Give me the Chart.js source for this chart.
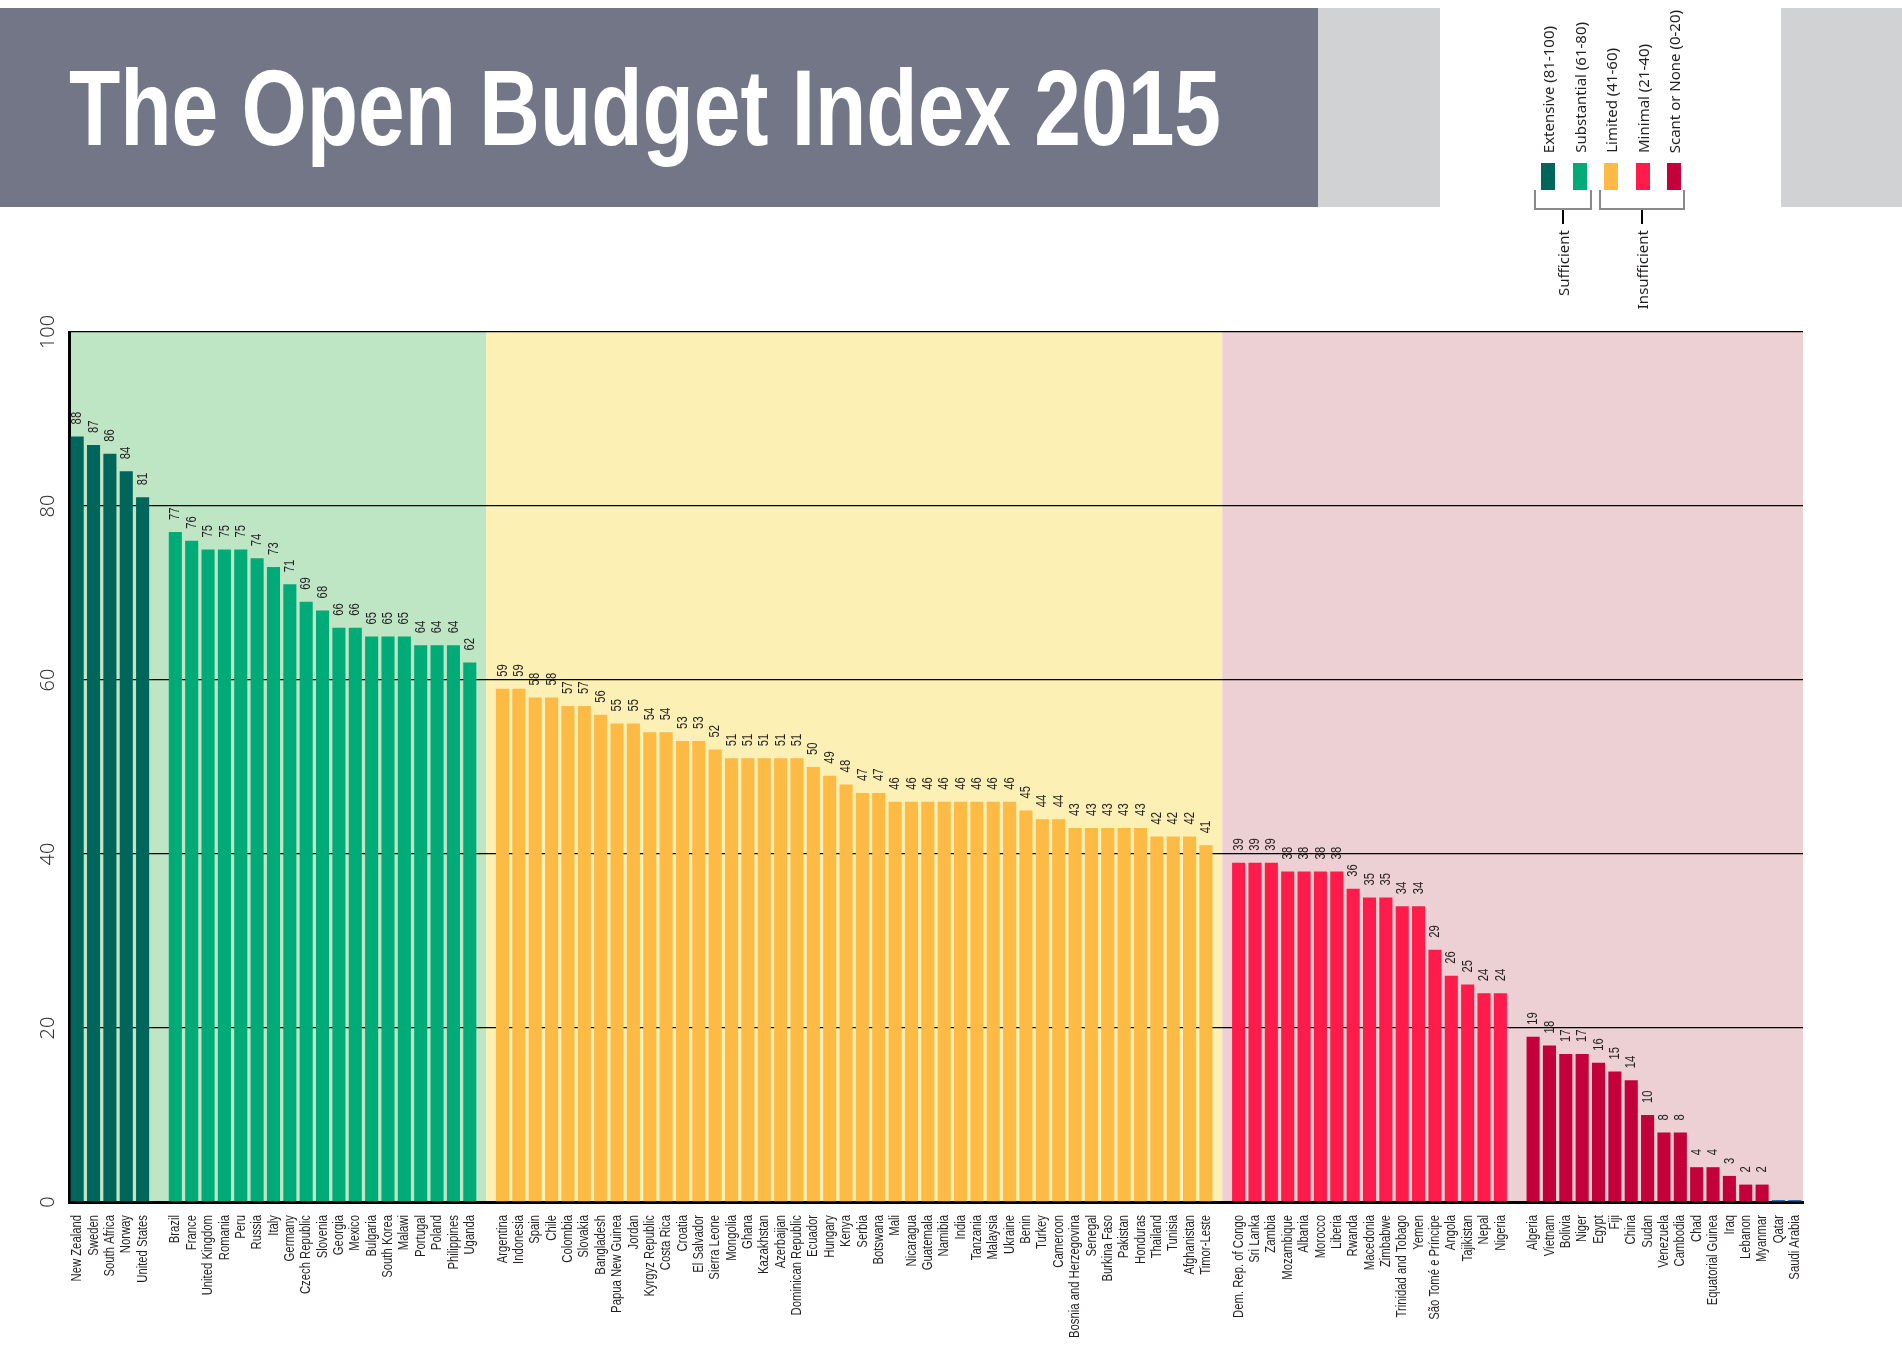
<!DOCTYPE html>
<html lang="en">
<head>
<meta charset="UTF-8">
<title>The Open Budget Index 2015</title>
<style>
    body {
        margin: 0;
        width: 1902px;
        height: 1348px;
        position: relative;
        overflow: hidden;
        background: #ffffff;
        font-family: 'Noto Sans', sans-serif;
        color: #231f20;
    }
    #budgetChart {
        position: absolute;
        left: 0;
        top: 0;
    }
    .block {
        position: absolute;
        top: 8px;
        height: 199px;
    }
    #titleBar { left: 0; width: 1318px; background: #737687; }
    #grayA { left: 1318px; width: 122px; background: #d1d2d4; }
    #grayB { left: 1781px; width: 121px; background: #d1d2d4; }
    #title {
        position: absolute;
        left: 69px;
        top: 54px;
        margin: 0;
        color: #ffffff;
        font-family: 'Liberation Sans', Arial, sans-serif;
        font-weight: bold;
        font-size: 108px;
        line-height: 108px;
        white-space: nowrap;
        transform-origin: left top;
    }
    .vtext {
        position: absolute;
        writing-mode: vertical-rl;
        transform: rotate(180deg);
        font-size: 15px;
        line-height: 16px;
        white-space: nowrap;
    }
    .swatch {
        position: absolute;
        top: 163px;
        width: 14px;
        height: 27px;
    }
    .line {
        position: absolute;
    }
</style>
</head>
<body>
    <canvas id="budgetChart" width="1902" height="1348"></canvas>

    <div class="block" id="titleBar"></div>
    <div class="block" id="grayA"></div>
    <div class="block" id="grayB"></div>
    <h1 id="title">The Open Budget Index 2015</h1>
    <div id="legend"></div>

    <script src="https://cdn.jsdelivr.net/npm/chart.js"></script>
    <script>
        // Scores by category, in the order they appear
        const extensiveCountries = ['New Zealand', 'Sweden', 'South Africa', 'Norway', 'United States'];
        const extensiveScores = [88, 87, 86, 84, 81];

        const substantialCountries = ['Brazil', 'France', 'United Kingdom', 'Romania', 'Peru', 'Russia', 'Italy', 'Germany',
            'Czech Republic', 'Slovenia', 'Georgia', 'Mexico', 'Bulgaria', 'South Korea', 'Malawi', 'Portugal', 'Poland',
            'Philippines', 'Uganda'];
        const substantialScores = [77, 76, 75, 75, 75, 74, 73, 71, 69, 68, 66, 66, 65, 65, 65, 64, 64, 64, 62];

        const limitedCountries = ['Argentina', 'Indonesia', 'Spain', 'Chile', 'Colombia', 'Slovakia', 'Bangladesh',
            'Papua New Guinea', 'Jordan', 'Kyrgyz Republic', 'Costa Rica', 'Croatia', 'El Salvador', 'Sierra Leone',
            'Mongolia', 'Ghana', 'Kazakhstan', 'Azerbaijan', 'Dominican Republic', 'Ecuador', 'Hungary', 'Kenya', 'Serbia',
            'Botswana', 'Mali', 'Nicaragua', 'Guatemala', 'Namibia', 'India', 'Tanzania', 'Malaysia', 'Ukraine', 'Benin',
            'Turkey', 'Cameroon', 'Bosnia and Herzegovina', 'Senegal', 'Burkina Faso', 'Pakistan', 'Honduras', 'Thailand',
            'Tunisia', 'Afghanistan', 'Timor-Leste'];
        const limitedScores = [59, 59, 58, 58, 57, 57, 56, 55, 55, 54, 54, 53, 53, 52, 51, 51, 51, 51, 51, 50, 49, 48, 47, 47,
            46, 46, 46, 46, 46, 46, 46, 46, 45, 44, 44, 43, 43, 43, 43, 43, 42, 42, 42, 41];

        const minimalCountries = ['Dem. Rep. of Congo', 'Sri Lanka', 'Zambia', 'Mozambique', 'Albania', 'Morocco', 'Liberia',
            'Rwanda', 'Macedonia', 'Zimbabwe', 'Trinidad and Tobago', 'Yemen', 'São Tomé e Príncipe', 'Angola', 'Tajikistan',
            'Nepal', 'Nigeria'];
        const minimalScores = [39, 39, 39, 38, 38, 38, 38, 36, 35, 35, 34, 34, 29, 26, 25, 24, 24];

        const scantCountries = ['Algeria', 'Vietnam', 'Bolivia', 'Niger', 'Egypt', 'Fiji', 'China', 'Sudan', 'Venezuela',
            'Cambodia', 'Chad', 'Equatorial Guinea', 'Iraq', 'Lebanon', 'Myanmar', 'Qatar', 'Saudi Arabia'];
        const scantScores = [19, 18, 17, 17, 16, 15, 14, 10, 8, 8, 4, 4, 3, 2, 2, 0, 0];

        const legendLabels = ['Extensive (81-100)', 'Substantial (61-80)', 'Limited (41-60)', 'Minimal (21-40)', 'Scant or None (0-20)'];
        const yTicks = [0, 20, 40, 60, 80, 100];

        const barColors = ['#00655a', '#00ab78', '#fdba45', '#ff1c4a', '#c4003a'];
        const zeroColor = '#1b75bc';
        const bandColors = ['#bee6c5', '#fdf0b5', '#edd0d3'];
        const labelFont = "15px 'Liberation Sans', Arial, sans-serif";

        // Put the groups together with an empty slot between them
        const groups = [
            [extensiveCountries, extensiveScores],
            [substantialCountries, substantialScores],
            [limitedCountries, limitedScores],
            [minimalCountries, minimalScores],
            [scantCountries, scantScores]
        ];
        let labels = [];
        let scores = [];
        let colors = [];
        let gapIndex = [];
        groups.forEach((g, i) => {
            if (i > 0) {
                gapIndex.push(labels.length);
                labels.push('');
                scores.push(null);
                colors.push('rgba(0,0,0,0)');
            }
            g[0].forEach((name, j) => {
                labels.push(name);
                scores.push(g[1][j]);
                colors.push(g[1][j] === 0 ? zeroColor : barColors[i]);
            });
        });

        // green behind Extensive + Substantial, yellow behind Limited, pink behind the rest
        const bandPlugin = {
            id: 'bands',
            beforeDraw(chart) {
                const ctx = chart.ctx;
                const x = chart.scales.x, y = chart.scales.y;
                const area = chart.chartArea;
                const edges = [area.left, x.getPixelForValue(gapIndex[1]), x.getPixelForValue(gapIndex[2]), area.right];
                const top = y.getPixelForValue(100), bottom = y.getPixelForValue(0);
                ctx.save();
                for (let i = 0; i < 3; i++) {
                    ctx.fillStyle = bandColors[i];
                    ctx.fillRect(edges[i], top, edges[i + 1] - edges[i], bottom - top);
                }
                ctx.restore();
            }
        };

        // the print uses a condensed face, so text along its reading direction is squeezed
        let squeeze = 1;

        function vText(ctx, text, x, y, align) {
            ctx.save();
            ctx.translate(x, y);
            ctx.rotate(-Math.PI / 2);
            ctx.scale(squeeze, 1);
            ctx.textAlign = align;
            ctx.fillText(text, 0, 0);
            ctx.restore();
        }

        // rotated numbers above bars, country names and y tick labels
        const textPlugin = {
            id: 'texts',
            afterDatasetsDraw(chart) {
                const ctx = chart.ctx;
                const meta = chart.getDatasetMeta(0);
                const xs = chart.scales.x;
                ctx.save();
                ctx.fillStyle = '#231f20';
                ctx.font = labelFont;
                ctx.textBaseline = 'middle';
                squeeze = 123 / ctx.measureText('Bosnia and Herzegovina').width;

                meta.data.forEach((bar, i) => {
                    const v = scores[i];
                    if (v === null) return;
                    if (v > 0) vText(ctx, String(v), bar.x, bar.y - 12, 'left');
                });
                labels.forEach((name, i) => {
                    if (!name) return;
                    vText(ctx, name, xs.getPixelForValue(i), chart.chartArea.bottom + 13, 'right');
                });

                squeeze = 1;
                ctx.fillStyle = '#333333';
                ctx.font = "300 20px 'Noto Sans', sans-serif";
                yTicks.forEach(t => {
                    vText(ctx, String(t), 48.5, chart.scales.y.getPixelForValue(t), 'center');
                });
                ctx.restore();
            }
        };

        const ctx = document.getElementById('budgetChart').getContext('2d');
        const budgetChart = new Chart(ctx, {
            type: 'bar',
            data: {
                labels: labels,
                datasets: [{
                    label: 'Open Budget Index',
                    data: scores,
                    backgroundColor: colors,
                    borderWidth: 0,
                    categoryPercentage: 1.0,
                    barPercentage: 0.8,
                    minBarLength: 2
                }]
            },
            options: {
                responsive: false,
                animation: false,
                layout: {
                    padding: { left: 69, top: 332, right: 99, bottom: 0 }
                },
                plugins: {
                    legend: { display: false },
                    tooltip: { enabled: false }
                },
                scales: {
                    x: {
                        grid: { display: false, drawTicks: false },
                        border: { display: true, color: '#000000', width: 3 },
                        ticks: { display: false, autoSkip: false },
                        afterFit: (scale) => { scale.height = 146; }
                    },
                    y: {
                        min: 0,
                        max: 100,
                        ticks: { display: false, stepSize: 20 },
                        grid: { color: '#000000', lineWidth: 1.3, drawTicks: false },
                        border: { display: true, color: '#000000', width: 3 },
                        afterFit: (scale) => { scale.width = 0; }
                    }
                }
            },
            plugins: [bandPlugin, textPlugin]
        });

        // Legend: vertical labels, swatches and the two brackets
        const legend = document.getElementById('legend');
        const legendX = [1548, 1580, 1611, 1643, 1674];
        legendLabels.forEach((text, i) => {
            const t = document.createElement('div');
            t.className = 'vtext';
            t.textContent = text;
            t.style.left = (legendX[i] - 8) + 'px';
            t.style.bottom = (1348 - 153) + 'px';
            legend.appendChild(t);

            const s = document.createElement('div');
            s.className = 'swatch';
            s.style.left = (legendX[i] - 7) + 'px';
            s.style.background = barColors[i];
            legend.appendChild(s);
        });

        function addLine(left, top, width, height, color) {
            const l = document.createElement('div');
            l.className = 'line';
            l.style.left = left + 'px';
            l.style.top = top + 'px';
            l.style.width = width + 'px';
            l.style.height = height + 'px';
            l.style.background = color;
            legend.appendChild(l);
        }
        [[1534, 1592, 1563, 'Sufficient'], [1599, 1685, 1642, 'Insufficient']].forEach(b => {
            addLine(b[0], 190, 2, 20, '#8a8a8a');
            addLine(b[1] - 2, 190, 2, 20, '#8a8a8a');
            addLine(b[0], 208, b[1] - b[0], 2, '#8a8a8a');
            addLine(b[2] - 1, 210, 1.5, 14, '#000000');
            const t = document.createElement('div');
            t.className = 'vtext';
            t.textContent = b[3];
            t.style.left = (b[2] - 8) + 'px';
            t.style.top = '230px';
            legend.appendChild(t);
        });

        // Squeeze the title to the width it has in the original
        const title = document.getElementById('title');
        const w = title.getBoundingClientRect().width;
        title.style.transform = 'scaleX(' + (1152 / w) + ')';
    </script>
</body>
</html>
